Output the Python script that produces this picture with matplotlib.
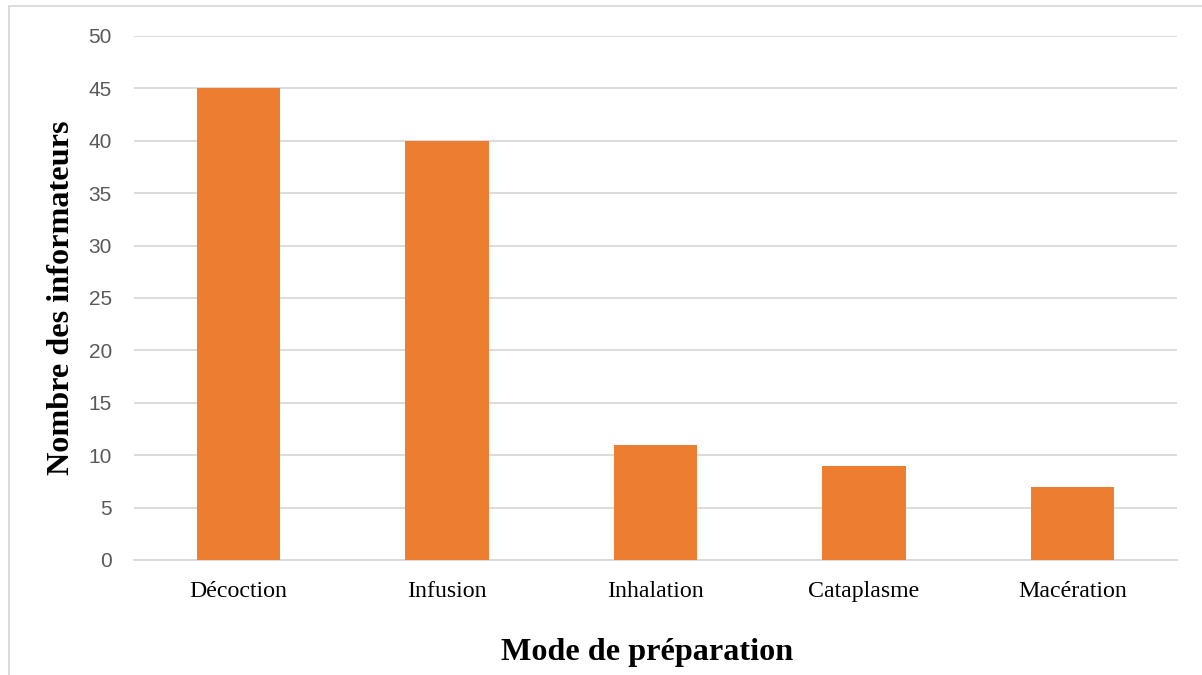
import matplotlib.pyplot as plt
import numpy as np
from matplotlib.patches import Rectangle

# Data
categories = ["Décoction", "Infusion", "Inhalation", "Cataplasme", "Macération"]
values = [45, 40, 11, 9, 7]
y_ticks = [0, 5, 10, 15, 20, 25, 30, 35, 40, 45, 50]

bar_color = "#ED7D31"
grid_color = "#D9D9D9"

fig = plt.figure(figsize=(12.02, 6.75), dpi=100)
ax = fig.add_axes([0.1115, 0.1704, 0.8675, 0.7763])

x = np.arange(len(categories))
ax.bar(x, values, width=0.40, color=bar_color, zorder=3)

ax.set_xlim(-0.5, len(categories) - 0.5)
ax.set_ylim(0, 50)
ax.set_yticks(y_ticks)
ax.set_yticklabels([str(v) for v in y_ticks], fontsize=15, color="#595959",
                   family=["Liberation Sans", "DejaVu Sans"])
ax.set_xticks(x)
ax.set_xticklabels(categories, fontsize=17.2, color="black",
                   family=["Liberation Serif", "DejaVu Serif"])
ax.tick_params(axis="both", length=0)
ax.tick_params(axis="y", pad=16)
ax.tick_params(axis="x", pad=15)

ax.grid(axis="y", color=grid_color, linewidth=1.3, zorder=0)
for side in ["top", "right", "left"]:
    ax.spines[side].set_visible(False)
ax.spines["bottom"].set_color(grid_color)
ax.spines["bottom"].set_linewidth(1.3)

ax.set_ylabel("Nombre des informateurs", fontsize=23.2, fontweight="bold",
              family=["Liberation Serif", "DejaVu Serif"], labelpad=9)
ax.set_xlabel("Mode de préparation", fontsize=23.2, fontweight="bold",
              family=["Liberation Serif", "DejaVu Serif"], labelpad=26)
ax.xaxis.label.set_x(0.4925)

# chart-area border (Excel style), runs off the right and bottom edges
fig.patches.append(Rectangle((9 / 1202, -0.01), 1.1, 1 - 6 / 675 + 0.01,
                             transform=fig.transFigure, fill=False,
                             edgecolor="#D9D9D9", linewidth=1.3))

fig.savefig("out.png", dpi=100)
